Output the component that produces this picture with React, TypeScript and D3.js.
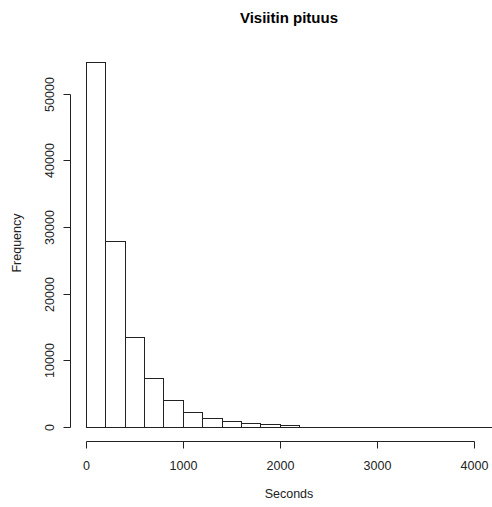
import * as d3 from "d3";
import { useEffect, useRef } from "react";

// histogram bins (seconds), each 200 wide
const binStarts = [0, 200, 400, 600, 800, 1000, 1200, 1400, 1600, 1800, 2000,
  2200, 2400, 2600, 2800, 3000, 3200, 3400, 3600, 3800, 4000];
const binWidth = 200;
const counts = [54700, 27900, 13500, 7250, 4000, 2150, 1250, 800, 500, 340, 220,
  20, 15, 10, 8, 6, 5, 4, 3, 2, 2];

const xTicks = [0, 1000, 2000, 3000, 4000];
const yTicks = [0, 10000, 20000, 30000, 40000, 50000];

const title = "Visiitin pituus";
const xLabel = "Seconds";
const yLabel = "Frequency";

const W = 492;
const H = 507;

export default function App() {
  const ref = useRef<SVGSVGElement>(null);

  useEffect(() => {
    const svg = d3.select(ref.current);
    svg.selectAll("*").remove();

    const x = d3.scaleLinear().domain([0, 4000]).range([85.7, 473.7]);
    const y = d3.scaleLinear().domain([0, 50000]).range([426.7, 93.7]);
    const font = "'Liberation Sans', Arial, sans-serif";
    const ink = "#222";

    // zero-height bins still show as a line along the base, like R does
    const lastEdge = binStarts[binStarts.length - 1] + binWidth;
    svg.append("line")
      .attr("x1", Math.round(x(0)) + 0.5).attr("x2", Math.round(x(lastEdge)) + 0.5)
      .attr("y1", Math.round(y(0)) + 0.5).attr("y2", Math.round(y(0)) + 0.5)
      .attr("stroke", ink);

    // bars
    svg.append("g")
      .selectAll("rect")
      .data(binStarts)
      .enter()
      .append("rect")
      .attr("x", (d) => Math.round(x(d)) + 0.5)
      .attr("y", (d, i) => Math.round(y(counts[i])) + 0.5)
      .attr("width", (d) => Math.round(x(d + binWidth)) - Math.round(x(d)))
      .attr("height", (d, i) => Math.round(y(0)) - Math.round(y(counts[i])))
      .attr("fill", "white")
      .attr("stroke", ink)
      .attr("stroke-width", 1);

    // x axis
    const xa = svg.append("g");
    const axY = 441.5;
    xa.append("line")
      .attr("x1", Math.round(x(0)) + 0.5).attr("x2", Math.round(x(4000)) + 0.5)
      .attr("y1", axY).attr("y2", axY)
      .attr("stroke", ink);
    xTicks.forEach((t) => {
      const px = Math.round(x(t)) + 0.5;
      xa.append("line")
        .attr("x1", px).attr("x2", px)
        .attr("y1", axY).attr("y2", axY + 7)
        .attr("stroke", ink);
      xa.append("text")
        .attr("x", px).attr("y", 470)
        .attr("text-anchor", "middle")
        .attr("font-family", font).attr("font-size", 12.5)
        .attr("fill", ink)
        .text(t);
    });

    // y axis
    const ya = svg.append("g");
    const axX = 70.5;
    ya.append("line")
      .attr("x1", axX).attr("x2", axX)
      .attr("y1", Math.round(y(0)) + 0.5).attr("y2", Math.round(y(50000)) + 0.5)
      .attr("stroke", ink);
    yTicks.forEach((t) => {
      const py = Math.round(y(t)) + 0.5;
      ya.append("line")
        .attr("x1", axX - 7).attr("x2", axX)
        .attr("y1", py).attr("y2", py)
        .attr("stroke", ink);
      ya.append("text")
        .attr("transform", `translate(54,${py}) rotate(-90)`)
        .attr("text-anchor", "middle")
        .attr("font-family", font).attr("font-size", 12.5)
        .attr("fill", ink)
        .text(t);
    });

    // titles
    svg.append("text")
      .attr("x", 289).attr("y", 23)
      .attr("text-anchor", "middle")
      .attr("font-family", font).attr("font-size", 15)
      .attr("font-weight", "bold")
      .attr("fill", "#000")
      .text(title);
    svg.append("text")
      .attr("x", 289).attr("y", 498)
      .attr("text-anchor", "middle")
      .attr("font-family", font).attr("font-size", 12.5)
      .attr("fill", ink)
      .text(xLabel);
    svg.append("text")
      .attr("transform", `translate(21,243) rotate(-90)`)
      .attr("text-anchor", "middle")
      .attr("font-family", font).attr("font-size", 12.5)
      .attr("fill", ink)
      .text(yLabel);
  }, []);

  return (
    <svg
      ref={ref}
      width={W}
      height={H}
      style={{ position: "absolute", left: 0, top: 0, background: "white" }}
    />
  );
}
